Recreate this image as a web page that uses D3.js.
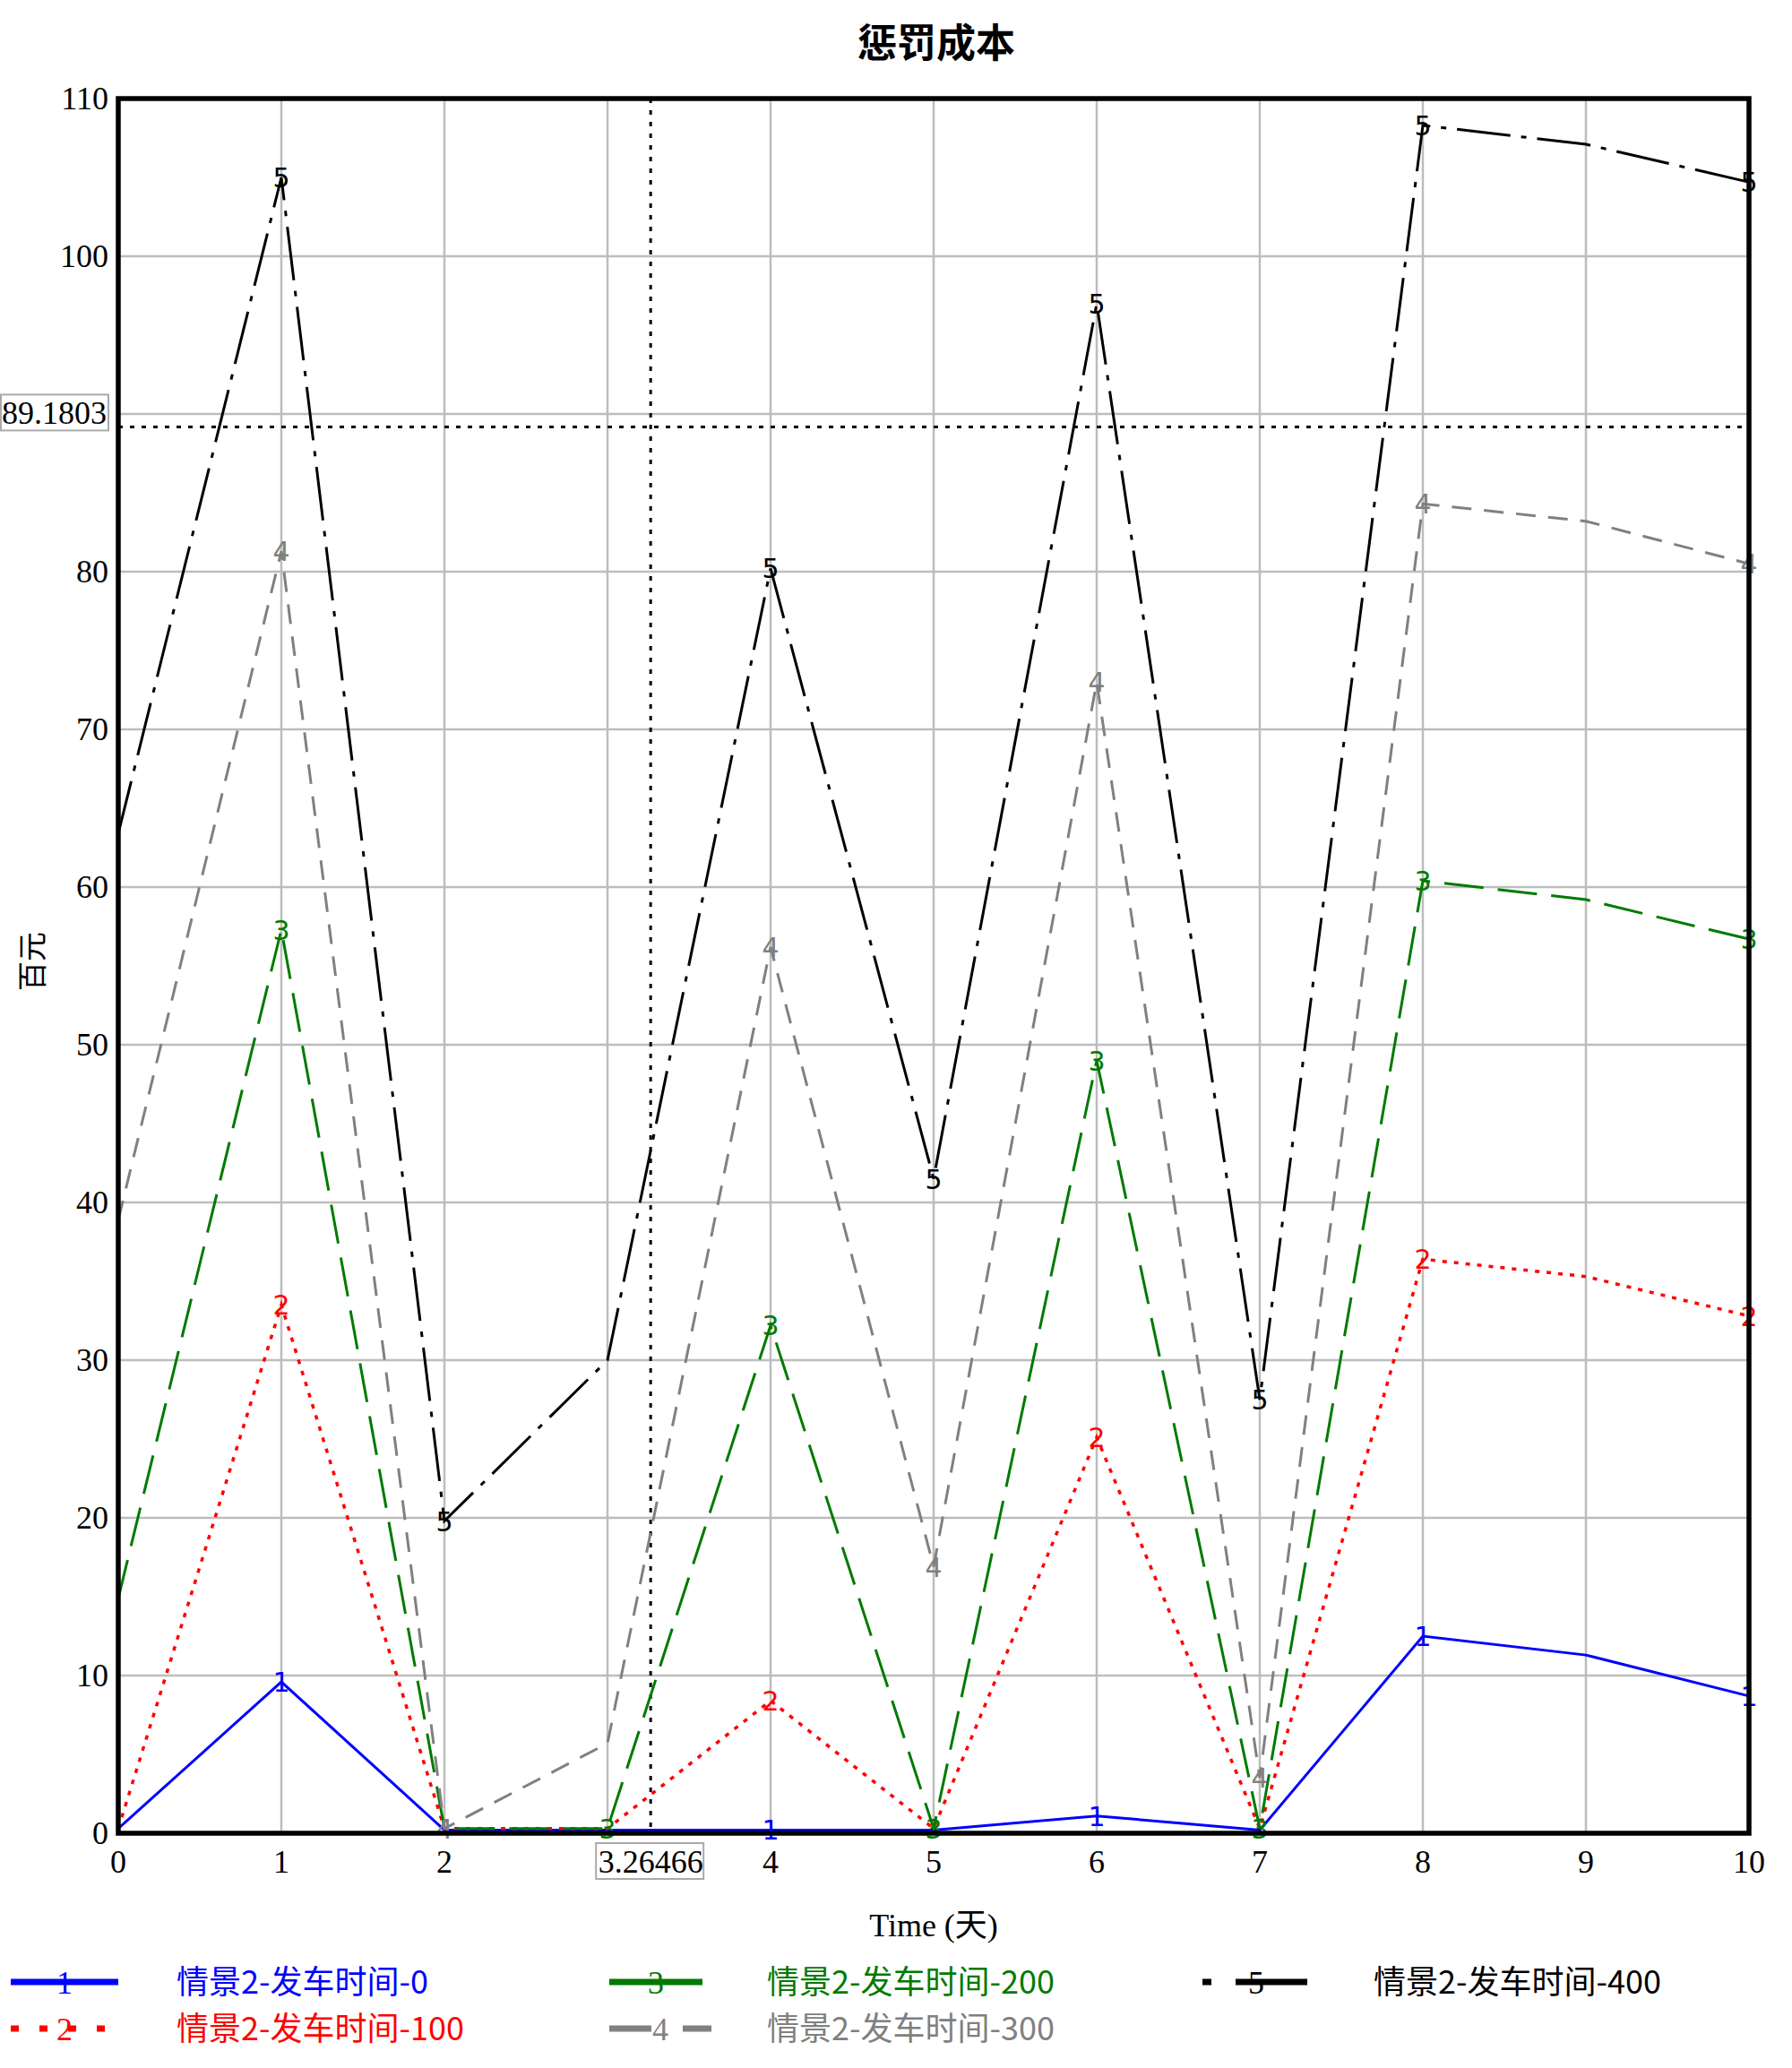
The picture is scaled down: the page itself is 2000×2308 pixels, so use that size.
<!DOCTYPE html>
<html><head><meta charset="utf-8">
<script src="https://cdn.jsdelivr.net/npm/d3@7"></script>
<style>body{margin:0;background:#fff}</style>
</head><body><svg id="c" width="2000" height="2308"></svg>
<script>
const days = [0,1,2,3,4,5,6,7,8,9,10];
const s1 = [0.3,9.6,0.2,0.2,0.2,0.2,1.1,0.2,12.5,11.3,8.7];
const s2 = [0.3,33.5,0.3,0.3,8.4,0.3,25.1,0.3,36.4,35.3,32.8];
const s3 = [14.9,57.3,0.3,0.3,32.2,0.3,49.0,0.3,60.4,59.2,56.7];
const s4 = [38.9,81.3,0.3,5.7,56.2,16.9,73.0,3.5,84.3,83.2,80.5];
const s5 = [63.4,105.0,19.8,30.0,80.2,41.5,97.0,27.5,108.3,107.1,104.7];
const seriesNames = ["情景2-发车时间-0","情景2-发车时间-100","情景2-发车时间-200","情景2-发车时间-300","情景2-发车时间-400"];
const labelIdx = [[1,4,6,8,10],[1,4,6,8,10],[1,3,4,5,6,7,8,10],[1,2,4,5,6,7,8,10],[1,2,4,5,6,7,8,10]];
const xTicks = [0,1,2,4,5,6,7,8,9,10];
const yTicks = [0,10,20,30,40,50,60,70,80,100,110];
const cursorX = 3.26466, cursorY = 89.1803;
const title = "惩罚成本", xTitle = "Time (天)", yTitle = "百元";

const colors = ["#0000ff","#ff0000","#007a00","#808080","#000000"];
const dashes = [null,"5,8","44,16","22,14","60,12,6,12"];
const widths = [3,3.5,3,3,3];

const svg = d3.select("#c");
const L=132,R=1952,T=110,B=2046;
const x = d3.scaleLinear().domain([0,10]).range([L,R]);
const y = d3.scaleLinear().domain([0,110]).range([B,T]);
const data=[s1,s2,s3,s4,s5];

// grid
const g = svg.append("g");
g.selectAll(".vg").data(d3.range(1,10)).enter().append("line")
 .attr("x1",d=>x(d)).attr("x2",d=>x(d)).attr("y1",T).attr("y2",B)
 .attr("stroke","#bdbdbd").attr("stroke-width",2.5);
g.selectAll(".hg").data(d3.range(10,110,10)).enter().append("line")
 .attr("x1",L).attr("x2",R).attr("y1",d=>y(d)).attr("y2",d=>y(d))
 .attr("stroke","#bdbdbd").attr("stroke-width",2.5);

// cursor lines
svg.append("line").attr("x1",x(cursorX)).attr("x2",x(cursorX)).attr("y1",T).attr("y2",B)
 .attr("stroke","#000").attr("stroke-width",3).attr("stroke-dasharray","5,8");
svg.append("line").attr("x1",L).attr("x2",R).attr("y1",y(cursorY)).attr("y2",y(cursorY))
 .attr("stroke","#000").attr("stroke-width",3).attr("stroke-dasharray","5,8");

svg.append("clipPath").attr("id","cp").append("rect").attr("x",L).attr("y",T-30).attr("width",R-L+20).attr("height",B-T+40);

const line = d3.line().x((d,i)=>x(days[i])).y(d=>y(d));
data.forEach((s,k)=>{
  svg.append("path").attr("d",line(s)).attr("fill","none").attr("stroke",colors[k])
   .attr("stroke-width",widths[k]).attr("stroke-dasharray",dashes[k]).attr("clip-path","url(#cp)");
});
data.forEach((s,k)=>{
  svg.append("g").selectAll("text").data(labelIdx[k]).enter().append("text")
   .attr("x",i=>x(days[i])).attr("y",i=>y(s[i])+11)
   .attr("text-anchor","middle").attr("font-family","DejaVu Sans, sans-serif").attr("font-size",30)
   .attr("fill",colors[k]).text(k+1);
});

// frame
svg.append("rect").attr("x",L).attr("y",T).attr("width",R-L).attr("height",B-T)
 .attr("fill","none").attr("stroke","#000").attr("stroke-width",5.5);

const serif="Liberation Serif, Times New Roman, serif";
// y ticks
svg.append("g").selectAll("text").data(yTicks).enter().append("text")
 .attr("x",L-11).attr("y",d=>y(d)+12).attr("text-anchor","end")
 .attr("font-family",serif).attr("font-size",36).text(d=>d);
// x ticks
svg.append("g").selectAll("text").data(xTicks).enter().append("text")
 .attr("x",d=>x(d)).attr("y",B+44).attr("text-anchor","middle")
 .attr("font-family",serif).attr("font-size",36).text(d=>d);

// cursor boxes
const bx = svg.append("g");
bx.append("rect").attr("x",x(cursorX)-61).attr("y",B+11).attr("width",120).attr("height",40)
 .attr("fill","#fff").attr("stroke","#aaa").attr("stroke-width",2);
bx.append("text").attr("x",x(cursorX)).attr("y",B+44).attr("text-anchor","middle")
 .attr("font-family",serif).attr("font-size",36).text(cursorX);
bx.append("rect").attr("x",1).attr("y",y(cursorY)-36).attr("width",120).attr("height",40)
 .attr("fill","#fff").attr("stroke","#aaa").attr("stroke-width",2);
bx.append("text").attr("x",119).attr("y",y(cursorY)-3).attr("text-anchor","end")
 .attr("font-family",serif).attr("font-size",36).text(cursorY);

// titles
svg.append("text").attr("x",1045).attr("y",64).attr("text-anchor","middle")
 .attr("font-family","Noto Sans CJK SC").attr("font-weight",700).attr("font-size",44).text(title);
svg.append("text").attr("x",1042).attr("y",2161).attr("text-anchor","middle")
 .attr("font-family",serif+", Noto Sans CJK SC").attr("font-size",36).text(xTitle);
svg.append("text").attr("transform","translate(48,1073) rotate(-90)").attr("text-anchor","middle")
 .attr("font-family","Noto Sans CJK SC").attr("font-size",33).text(yTitle);

// legend
const leg = [
 {x0:12,x1:132,y:2212,tx:197,dash:null},
 {x0:12,x1:132,y:2264,tx:197,dash:"9,23"},
 {x0:680,x1:784,y:2212,tx:856,dash:null},
 {x0:680,x1:794,y:2264,tx:856,dash:"47,35"},
 {x0:1342,x1:1459,y:2212,tx:1533,dash:"10,27,90"}
];
leg.forEach((o,k)=>{
  const lg = svg.append("g");
  lg.append("line").attr("x1",o.x0).attr("x2",o.x1).attr("y1",o.y).attr("y2",o.y)
   .attr("stroke",colors[k]).attr("stroke-width",7).attr("stroke-dasharray",o.dash);
  lg.append("text").attr("x",k==4?1402:(o.x0+o.x1)/2).attr("y",o.y+13).attr("text-anchor","middle")
   .attr("font-family",serif).attr("font-size",36).attr("fill",colors[k]).text(k+1);
  lg.append("text").attr("x",o.tx).attr("y",o.y+13)
   .attr("font-family","Noto Sans CJK SC").attr("font-size",36).attr("fill",colors[k]).text(seriesNames[k]);
});
</script></body></html>
